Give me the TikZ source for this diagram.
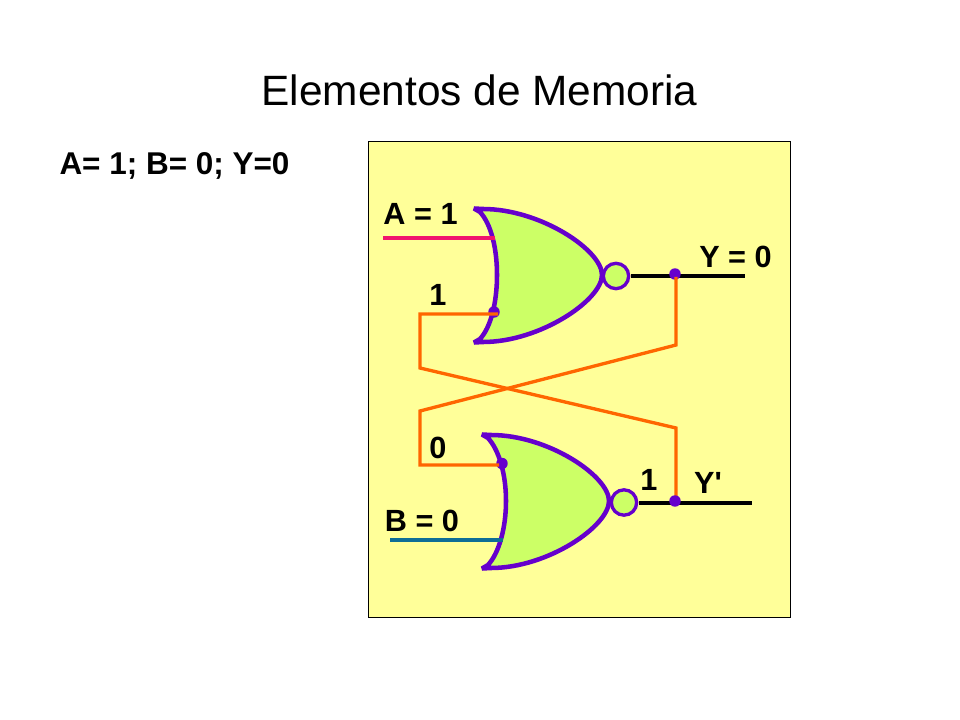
\documentclass[tikz,border=0pt]{standalone}
\usepackage{fontspec}
\setmainfont{Liberation Sans}
\definecolor{panel}{HTML}{FFFF99}
\definecolor{gatefill}{HTML}{CCFF66}
\definecolor{gateline}{HTML}{6600CC}
\definecolor{wire}{HTML}{FF6600}
\definecolor{pinkw}{HTML}{F0146E}
\definecolor{bluew}{HTML}{0F6E96}
\tikzset{
  gate/.style={draw=gateline,fill=gatefill,line width=3.4pt,line join=miter,miter limit=2},
  bubble/.style={circle,draw=gateline,fill=gatefill,line width=2.5pt,minimum size=19pt,inner sep=0pt},
  dotn/.style={circle,fill=gateline,minimum size=8.6pt,inner sep=0pt},
  orangew/.style={draw=wire,line width=2.5pt,line join=miter},
  blackw/.style={draw=black,line width=2.4pt},
  colw/.style={line width=2.5pt},
  lbl/.style={font=\bfseries\fontsize{23}{25}\selectfont,text=black,inner sep=0pt,anchor=center},
  ttl/.style={font=\fontsize{31.8}{36}\selectfont,text=black,inner sep=0pt,anchor=center},
}
\begin{document}
\begin{tikzpicture}[x=0.75pt,y=-0.75pt]
\useasboundingbox (0,0) rectangle (960,720);
\fill[white] (0,0) rectangle (960,720);
\node[ttl] (title) at (479.5,90) {Elementos de Memoria};
\node[lbl,font=\bfseries\fontsize{23.6}{26}\selectfont] (cond) at (174.5,165.5) {A= 1; B= 0; Y=0};
\draw[panel,fill=panel] (368,141) rectangle (790,617);
\draw[black,line width=0.5pt] (368,141) rectangle (790,617);
% gates
\path[gate] (474,208.5) -- (483,209) .. controls (540,209) and (602,250) .. (602,275)
  .. controls (602,300) and (540,342) .. (483,342) -- (474,342.5)
  -- (480,339) .. controls (491,327) and (497,302) .. (497,275)
  .. controls (497,248) and (491,224) .. (480,212) -- cycle;
\path[gate] (482,434.5) -- (491,435) .. controls (548,435) and (609,476) .. (609,501)
  .. controls (609,526) and (548,568) .. (491,568) -- (482,568.5)
  -- (488,565) .. controls (499,553) and (506,528) .. (506,501)
  .. controls (506,474) and (499,450) .. (488,438) -- cycle;
\node[bubble] (b1) at (616,276) {};
\node[bubble] (b2) at (624,502.5) {};
% free ends
\coordinate (aL) at (383,238);
\coordinate (aR) at (495,238);
\coordinate (bL) at (390,540);
\coordinate (bR) at (503,540);
\coordinate (yE) at (745,276);
\coordinate (ypE) at (752,503);
\coordinate (ys) at (631,276);
\coordinate (yps) at (639,503);
\draw[pinkw,colw] (aL) -- (aR);
\draw[bluew,colw] (bL) -- (bR);
\draw[blackw] (ys) -- (yE);
\draw[blackw] (yps) -- (ypE);
% dots under the wires
\node[dotn] (d1) at (494,312) {};
\node[dotn] (d2) at (502,463.5) {};
\node[dotn] (d3) at (675,274) {};
% cross-coupling
\coordinate (w1a) at (498,314);
\coordinate (w1b) at (420,314);
\coordinate (w1c) at (420,368);
\coordinate (w1d) at (676,428);
\coordinate (w1e) at (676,497);
\coordinate (w2a) at (499,465);
\coordinate (w2b) at (420,465);
\coordinate (w2c) at (420,411);
\coordinate (w2d) at (676,345);
\coordinate (w2e) at (676,277);
\draw[orangew] (w1a) -- (w1b) -- (w1c) -- (w1d) -- (w1e);
\draw[orangew] (w2a) -- (w2b) -- (w2c) -- (w2d) -- (w2e);
\node[dotn] (d4) at (675,501) {};
% labels
\node[lbl] (la) at (420.5,214) {A = 1};
\node[lbl] (lone) at (438,295) {1};
\node[lbl] (ly) at (735.5,257) {Y = 0};
\node[lbl] (lzero) at (438,448) {0};
\node[lbl] (ltwo) at (649,480) {1};
\node[lbl] (lyp) at (708,483) {Y\textquotesingle};
\node[lbl] (lb) at (422,521) {B = 0};
\end{tikzpicture}
\end{document}
